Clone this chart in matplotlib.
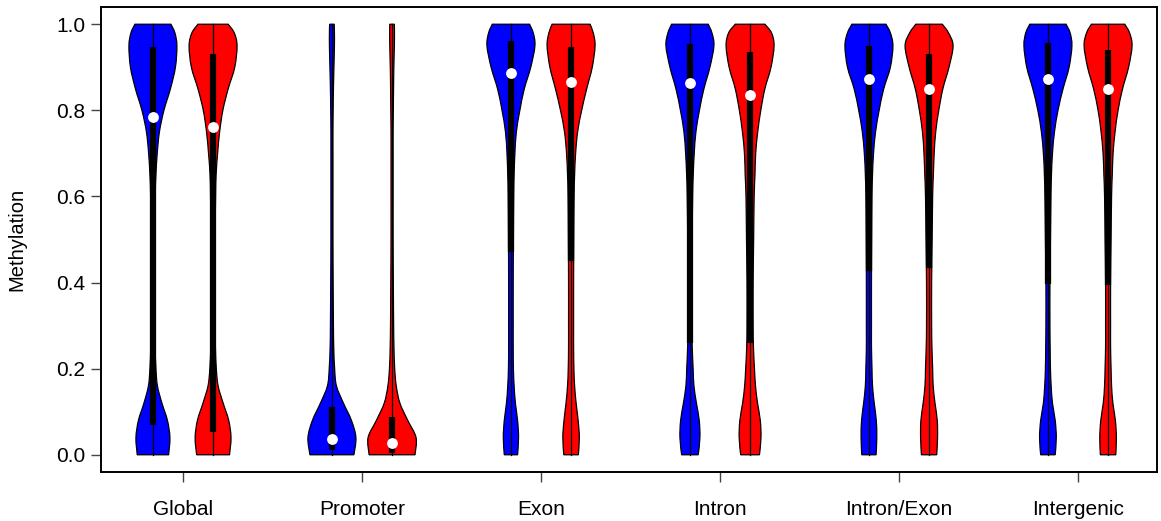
import numpy as np
import matplotlib.pyplot as plt
from matplotlib.path import Path
from matplotlib.patches import PathPatch

plt.rcParams['font.family'] = ['Liberation Sans', 'DejaVu Sans']

regions = ['Global', 'Promoter', 'Exon', 'Intron', 'Intron/Exon', 'Intergenic']

# methylation levels where the density profiles were sampled
levels = [0.0, 0.04, 0.08, 0.12, 0.16, 0.2, 0.25, 0.3, 0.4, 0.5,
          0.6, 0.65, 0.7, 0.75, 0.8, 0.85, 0.9, 0.95, 0.98, 1.0]

# density profiles (arbitrary units) for the two samples in each region
dens_blue = {
    'Global':      [15.7, 17, 14.5, 9, 4.5, 3, 2.2, 2, 2, 2, 2.3, 3, 4.3, 6.5, 11, 17.5, 22.5, 24, 22, 18],
    'Promoter':    [22, 24, 19.5, 11.5, 4.5, 2.7, 1.8, 1.5, 1.2, 1.0, 1.0, 1.0, 1.0, 1.0, 1.2, 1.5, 2.0, 2.5, 2.5, 2.3],
    'Exon':        [6.7, 7.7, 6.7, 4.5, 3.2, 2.5, 2.3, 2.3, 2.3, 2.5, 2.8, 3.2, 4, 5.5, 9, 13.5, 20, 24.2, 22.5, 18.8],
    'Intron':      [8.3, 10, 9.3, 6.5, 4, 3.2, 2.3, 2, 2, 2.2, 2.7, 3.3, 4.3, 6, 9.5, 14, 20, 24, 22, 18.3],
    'Intron/Exon': [7, 7.7, 7.2, 5.2, 3.5, 3, 2.5, 2.5, 2.5, 2.7, 3, 3.5, 4.5, 6.5, 10, 14.5, 21, 23.5, 21, 16.7],
    'Intergenic':  [7.2, 8.3, 7.2, 4.5, 3.2, 2.5, 2.2, 2, 2, 2.5, 3, 3.5, 4.5, 6.5, 10, 15, 21, 23.8, 22, 18],
}
dens_red = {
    'Global':      [16.3, 17.8, 15.5, 10, 5, 3.2, 2.3, 2, 2, 2, 2.5, 3, 4.5, 6.5, 9.7, 15, 21.5, 23.8, 21, 15],
    'Promoter':    [22, 23, 15, 7.5, 4, 2.5, 1.8, 1.5, 1.2, 1.0, 1.0, 1.0, 1.0, 1.0, 1.2, 1.4, 1.7, 2.2, 2.3, 2.2],
    'Exon':        [7.2, 8.2, 7, 5, 3.5, 2.8, 2.5, 2.5, 2.5, 2.7, 3, 3.5, 4.5, 6.5, 10.5, 15.5, 21, 23.8, 22, 18.8],
    'Intron':      [9.2, 10.7, 10, 7.3, 5.3, 4.3, 3.3, 3, 3, 3.5, 4, 4.8, 5.5, 7.5, 10.5, 14.5, 20.5, 23.5, 21, 14.5],
    'Intron/Exon': [7.5, 8.3, 8, 5.8, 4, 3.5, 2.8, 2.5, 2.5, 3, 3.5, 4.2, 5, 6.5, 9.5, 13.5, 19.5, 23.5, 19, 13],
    'Intergenic':  [7.7, 8.3, 7.3, 4.8, 3.5, 3, 2.5, 2.5, 2.5, 3, 3.5, 4.2, 5, 7, 10, 14.5, 20.5, 24, 21.5, 16.7],
}

# box summaries: lower quartile, median, upper quartile
q1_blue  = [0.07, 0.01, 0.471, 0.26, 0.427, 0.397]
med_blue = [0.784, 0.037, 0.886, 0.864, 0.873, 0.872]
q3_blue  = [0.947, 0.111, 0.961, 0.954, 0.949, 0.956]
q1_red   = [0.053, 0.005, 0.451, 0.26, 0.434, 0.394]
med_red  = [0.761, 0.028, 0.865, 0.836, 0.850, 0.849]
q3_red   = [0.930, 0.088, 0.946, 0.935, 0.930, 0.940]

fig = plt.figure(figsize=(11.61, 5.21), dpi=100)
ax = fig.add_axes([101 / 1161, 1 - 472 / 521, 1056 / 1161, 465 / 521])

half_width = 0.134
shift = 0.168


def smooth_side(pts):
    # Catmull-Rom through the sampled outline, written as cubic Bezier pieces
    verts, codes = [], []
    n = len(pts)
    for i in range(n - 1):
        p0 = pts[max(i - 1, 0)]
        p1 = pts[i]
        p2 = pts[i + 1]
        p3 = pts[min(i + 2, n - 1)]
        c1 = p1 + (p2 - p0) / 6.0
        c2 = p2 - (p3 - p1) / 6.0
        verts += [c1, c2, p2]
        codes += [Path.CURVE4] * 3
    return verts, codes


def draw_violin(x, dens, q1, med, q3, color):
    d = np.array(dens, dtype=float)
    w = d / d.max() * half_width
    y = np.array(levels)
    right = np.column_stack([x + w, y])
    left = np.column_stack([x - w, y])[::-1]

    verts = [right[0]]
    codes = [Path.MOVETO]
    v, c = smooth_side(right)
    verts += v
    codes += c
    verts.append(left[0])
    codes.append(Path.LINETO)
    v, c = smooth_side(left)
    verts += v
    codes += c
    verts.append(right[0])
    codes.append(Path.CLOSEPOLY)

    patch = PathPatch(Path(verts, codes), facecolor=color, edgecolor='black',
                      lw=0.9, zorder=2)
    ax.add_patch(patch)
    ax.plot([x, x], [levels[0], levels[-1]], color='black', lw=0.9, zorder=4)
    ax.plot([x, x], [q1, q3], color='black', lw=4.5, solid_capstyle='butt', zorder=5)
    ax.plot(x, med, 'o', color='white', markersize=7.8, markeredgewidth=0, zorder=6)


for i, name in enumerate(regions):
    pos = i + 1
    draw_violin(pos - shift, dens_blue[name], q1_blue[i], med_blue[i], q3_blue[i], '#0000ff')
    draw_violin(pos + shift, dens_red[name], q1_red[i], med_red[i], q3_red[i], '#ff0000')

ax.set_xlim(1 - 82 / 179, 1 + 974 / 179)
ax.set_ylim(-0.04, 1.04)

ax.set_xticks(range(1, len(regions) + 1))
ax.set_xticklabels(regions, fontsize=15)
ax.set_yticks([0, 0.2, 0.4, 0.6, 0.8, 1.0])
ax.set_yticklabels(['0.0', '0.2', '0.4', '0.6', '0.8', '1.0'], fontsize=15)
ax.tick_params(axis='x', length=7.5, width=1, color='#444444', pad=13)
ax.tick_params(axis='y', length=7.5, width=1, color='#444444', pad=4)
ax.set_ylabel('Methylation', fontsize=14.5, labelpad=21)

for s in ax.spines.values():
    s.set_linewidth(1.4)

fig.savefig('out.png', dpi=100)
